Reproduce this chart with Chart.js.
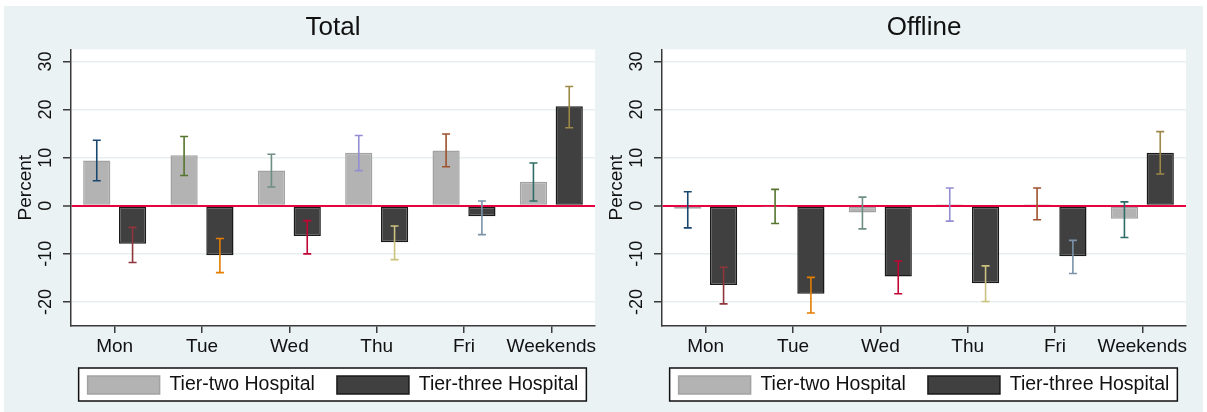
<!DOCTYPE html>
<html><head><meta charset="utf-8">
<script src="https://cdn.jsdelivr.net/npm/chart.js@4.4.1/dist/chart.umd.min.js"></script>
<style>
html,body{margin:0;padding:0;background:#fff;width:1207px;height:412px;overflow:hidden;position:relative;}
#bg{position:absolute;left:4px;top:6px;width:1199px;height:406px;background:#EAF2F3;}
.wrap{position:absolute;top:0;width:666px;height:412px;}
canvas{display:block;}
</style></head><body>
<div id="bg"></div>
<div class="wrap" style="left:0px"><canvas id="c1" width="666" height="412"></canvas></div>
<div class="wrap" style="left:591px"><canvas id="c2" width="666" height="412"></canvas></div>
<script>
// ---- data ----
const categories = ['Mon', 'Tue', 'Wed', 'Thu', 'Fri', 'Weekends'];
const seriesNames = ['Tier-two Hospital', 'Tier-three Hospital'];
const yTicks = [-20, -10, 0, 10, 20, 30];
const panelTitles = ['Total', 'Offline'];

const totalTier2   = [9.4, 10.5, 7.3, 11.0, 11.5, 5.0];
const totalTier2Lo = [5.2, 6.3, 3.9, 7.3, 8.1, 1.0];
const totalTier2Hi = [13.6, 14.4, 10.7, 14.6, 14.9, 8.9];
const totalTier3   = [-7.9, -10.3, -6.3, -7.6, -2.2, 20.7];
const totalTier3Lo = [-11.8, -13.9, -10.0, -11.2, -6.0, 16.2];
const totalTier3Hi = [-4.5, -6.8, -3.1, -4.2, 1.0, 24.8];

const offlineTier2   = [-0.6, -0.1, -1.4, 0.3, 0.3, -2.7];
const offlineTier2Lo = [-4.6, -3.7, -4.8, -3.2, -2.9, -6.6];
const offlineTier2Hi = [2.9, 3.4, 1.8, 3.7, 3.7, 0.8];
const offlineTier3   = [-16.5, -18.3, -14.7, -16.1, -10.5, 11.0];
const offlineTier3Lo = [-20.4, -22.3, -18.3, -19.9, -14.1, 6.6];
const offlineTier3Hi = [-12.8, -14.9, -11.5, -12.5, -7.2, 15.4];

// ---- styles ----
const tier2ErrColors = ['#1A476F', '#55752F', '#6E8E84', '#938DD2', '#A0522D', '#2D6D66'];
const tier3ErrColors = ['#90353B', '#E37E00', '#C10534', '#CAC27E', '#7B92A8', '#9C8847'];
const FONT = "'Liberation Sans', Arial, sans-serif";
const TXT = '#111111';
const AXIS = '#3A3A3A';
const PLOT_BOTTOM = 326;
const PAD_BOTTOM = 7.25;

const plotBg = {
  id: 'plotBg',
  beforeDraw(chart) {
    const {ctx, chartArea: a} = chart;
    ctx.save();
    ctx.fillStyle = '#FFFFFF';
    ctx.fillRect(a.left, a.top, a.right - a.left, a.bottom - a.top);
    const lg = chart.legend;
    if (lg && lg.legendHitBoxes && lg.legendHitBoxes.length) {
      const hb = lg.legendHitBoxes;
      const last = hb[hb.length - 1];
      const x0 = hb[0].left - 9;
      const x1 = last.left + last.width + 8;
      const y0 = hb[0].top + (hb[0].height - 18) / 2 - 8;
      ctx.fillStyle = '#FFFFFF';
      ctx.fillRect(x0, y0, x1 - x0, 33);
      ctx.strokeStyle = '#111111';
      ctx.lineWidth = 1.5;
      ctx.strokeRect(x0, y0, x1 - x0, 33);
    }
    ctx.restore();
  }
};

const errorBars = {
  id: 'errorBars',
  afterDatasetsDraw(chart) {
    const ctx = chart.ctx;
    const ys = chart.scales.y;
    ctx.save();
    ctx.lineWidth = 1.6;
    chart.data.datasets.forEach((ds, di) => {
      const meta = chart.getDatasetMeta(di);
      meta.data.forEach((el, i) => {
        const x = el.x;
        const yl = ys.getPixelForValue(ds.errLo[i]);
        const yh = ys.getPixelForValue(ds.errHi[i]);
        ctx.strokeStyle = ds.errColors[i];
        ctx.beginPath();
        ctx.moveTo(x, yl); ctx.lineTo(x, yh);
        ctx.moveTo(x - 4, yl); ctx.lineTo(x + 4, yl);
        ctx.moveTo(x - 4, yh); ctx.lineTo(x + 4, yh);
        ctx.stroke();
      });
    });
    ctx.restore();
  }
};

function makeChart(id, title, t2, t2lo, t2hi, t3, t3lo, t3hi) {
  return new Chart(document.getElementById(id), {
    type: 'bar',
    data: {
      labels: categories,
      datasets: [
        { label: seriesNames[0], data: t2, errLo: t2lo, errHi: t2hi, errColors: tier2ErrColors,
          backgroundColor: '#B3B3B3', borderColor: '#A2A2A2', borderWidth: 1.5, borderSkipped: false,
          categoryPercentage: 0.82, barPercentage: 0.76 },
        { label: seriesNames[1], data: t3, errLo: t3lo, errHi: t3hi, errColors: tier3ErrColors,
          backgroundColor: '#404040', borderColor: '#1A1A1A', borderWidth: 1.5, borderSkipped: false,
          categoryPercentage: 0.82, barPercentage: 0.76 }
      ]
    },
    options: {
      responsive: false,
      animation: false,
      devicePixelRatio: 1,
      layout: { padding: { left: 0, right: 0, top: 0, bottom: PAD_BOTTOM } },
      plugins: {
        title: { display: true, text: title, color: TXT,
          font: { family: FONT, size: 26, weight: 'normal' },
          padding: { top: 12.7, bottom: 5.5 } },
        legend: { display: true, position: 'bottom',
          labels: { boxWidth: 72, boxHeight: 18, padding: 22, color: TXT,
            font: { family: FONT, size: 19.5 } } },
        tooltip: { enabled: false }
      },
      scales: {
        x: {
          type: 'category', offset: true,
          grid: { display: true, drawOnChartArea: false, offset: false, tickLength: 7,
            tickColor: AXIS, tickWidth: 1.5, lineWidth: 1.5, color: AXIS },
          border: { display: true, color: AXIS, width: 1.5 },
          ticks: { color: TXT, font: { family: FONT, size: 19 }, padding: 2,
            maxRotation: 0, minRotation: 0, autoSkip: false },
          afterFit(s) {
            const lh = s.chart.legend ? s.chart.legend.height : 0;
            s.height = s.chart.height - PAD_BOTTOM - lh - PLOT_BOTTOM;
          }
        },
        y: {
          type: 'linear', position: 'left', min: -25, max: 32.5,
          afterBuildTicks(s) { s.ticks = yTicks.map(v => ({ value: v })); },
          grid: {
            color: c => (c.tick && c.tick.value === 0) ? '#E8003F' : '#E7EFF0',
            lineWidth: c => (c.tick && c.tick.value === 0) ? 2 : 1.5,
            tickColor: AXIS, tickWidth: 1.5, tickLength: 8, drawTicks: true
          },
          border: { display: true, color: AXIS, width: 1.5 },
          ticks: { color: TXT, font: { family: FONT, size: 18 }, padding: 4,
            minRotation: 90, maxRotation: 90, crossAlign: 'center', autoSkip: false },
          title: { display: true, text: 'Percent', color: TXT,
            font: { family: FONT, size: 19 }, padding: { top: 14, bottom: 0 } },
          afterFit(s) { s.width = 71; }
        },
        yR: {
          type: 'linear', position: 'right', display: true,
          grid: { display: false, drawTicks: false },
          border: { display: false },
          ticks: { display: false },
          afterFit(s) { s.width = 71; }
        }
      }
    },
    plugins: [plotBg, errorBars]
  });
}

makeChart('c1', panelTitles[0], totalTier2, totalTier2Lo, totalTier2Hi, totalTier3, totalTier3Lo, totalTier3Hi);
makeChart('c2', panelTitles[1], offlineTier2, offlineTier2Lo, offlineTier2Hi, offlineTier3, offlineTier3Lo, offlineTier3Hi);
</script>
</body></html>
